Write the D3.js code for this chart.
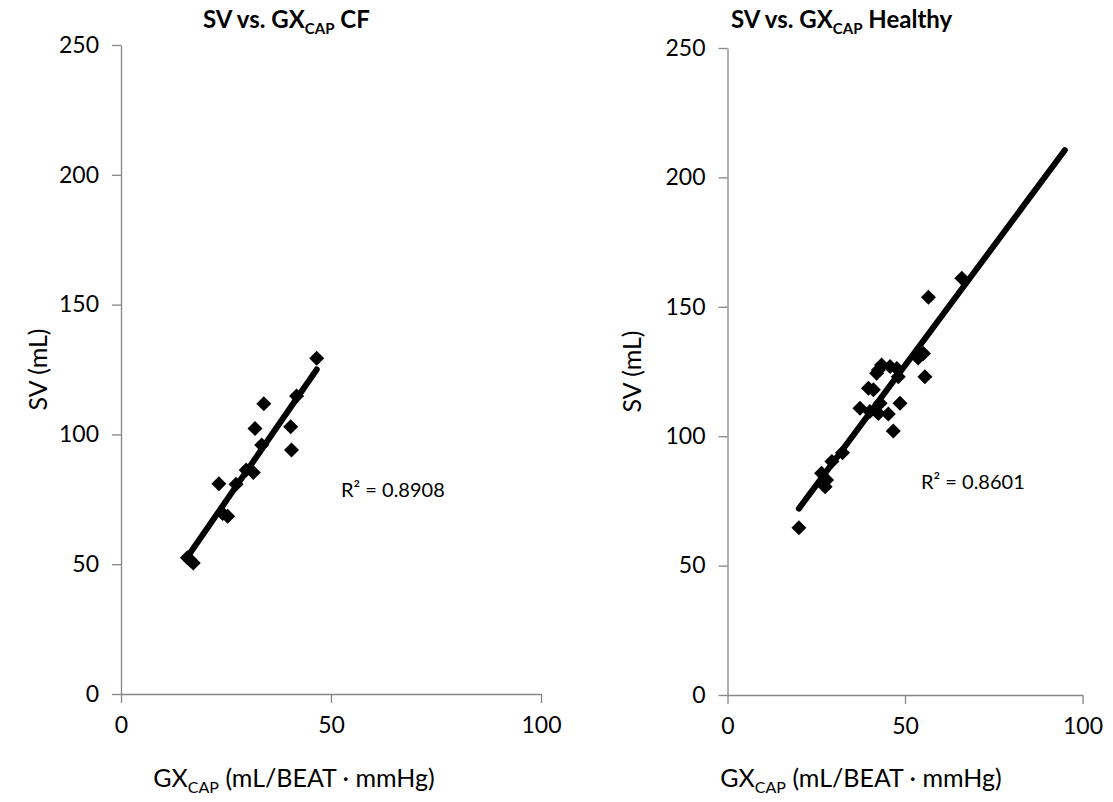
<!DOCTYPE html>
<html>
<head>
<meta charset="utf-8">
<script src="https://cdnjs.cloudflare.com/ajax/libs/d3/7.8.5/d3.min.js"></script>
<style>
  body { margin: 0; background: #fff; }
  text { font-family: Lato, "Open Sans", sans-serif; fill: #000; }
  .axis path, .axis line { stroke: #868686; stroke-width: 1.3; }
</style>
</head>
<body>
<script>
// CF panel
const cfX = [46.6, 41.8, 34.0, 31.9, 40.4, 40.6, 33.5, 29.8, 31.5, 23.3, 27.4, 24.2, 25.4, 15.8, 17.2, 16.5];
const cfY = [129.3, 114.8, 111.8, 102.3, 102.9, 94.0, 95.9, 86.3, 85.3, 81.0, 80.8, 69.5, 68.5, 52.5, 50.5, 51.5];
const cfR2 = "R² = 0.8908";

// Healthy panel
const healthyX = [20.1, 26.5, 27.9, 27.5, 29.4, 32.4, 37.3, 39.7, 41.1, 40.1, 42.5, 43.0, 45.3, 48.6, 46.7,
  42.5, 42.0, 43.4, 45.8, 48.1, 47.7, 54.2, 55.2, 55.6, 56.6, 66.0, 53.7];
const healthyY = [64.6, 85.7, 83.1, 80.5, 90.2, 93.6, 110.8, 118.5, 117.9, 109.5, 108.8, 112.7, 108.6, 112.7, 102.0,
  125.6, 124.3, 127.5, 126.9, 123.0, 126.2, 131.4, 132.0, 123.0, 153.7, 161.0, 130.2];
const healthyR2 = "R² = 0.8601";
const healthyTrendTo = 95;

const xTicks = [0, 50, 100];
const yTicks = [0, 50, 100, 150, 200, 250];

const W = 1113, H = 802;
const svg = d3.select("body").append("svg").attr("width", W).attr("height", H);

const diamond = "M0,-7.5L7.5,0L0,7.5L-7.5,0Z";

function panel(opt) {
  const x = d3.scaleLinear().domain([0, 100]).range([opt.left, opt.right]);
  const y = d3.scaleLinear().domain([0, 250]).range([opt.bottom, opt.top]);
  const g = svg.append("g");

  g.append("g").attr("class", "axis")
    .attr("transform", "translate(0," + opt.bottom + ")")
    .call(d3.axisBottom(x).tickValues(xTicks).tickSize(9).tickSizeOuter(0).tickPadding(14))
    .selectAll("text").style("font-size", "23px");

  g.append("g").attr("class", "axis")
    .attr("transform", "translate(" + opt.left + ",0)")
    .call(d3.axisLeft(y).tickValues(yTicks).tickSize(9).tickSizeOuter(0).tickPadding(13))
    .selectAll("text").style("font-size", "23px");

  g.selectAll(".axis text").attr("fill", "#000");

  // least squares trendline
  const n = opt.xs.length;
  const mx = d3.mean(opt.xs), my = d3.mean(opt.ys);
  let sxy = 0, sxx = 0;
  for (let i = 0; i < n; i++) { sxy += (opt.xs[i] - mx) * (opt.ys[i] - my); sxx += (opt.xs[i] - mx) ** 2; }
  const b = sxy / sxx, a = my - b * mx;
  const x0 = d3.min(opt.xs), x1 = opt.trendTo || d3.max(opt.xs);

  g.selectAll(".pt")
    .data(opt.xs.map((v, i) => [v, opt.ys[i]]))
    .enter().append("path")
    .attr("d", diamond)
    .attr("transform", d => "translate(" + x(d[0]) + "," + y(d[1]) + ")")
    .attr("fill", "#000");

  g.append("line")
    .attr("x1", x(x0)).attr("y1", y(a + b * x0))
    .attr("x2", x(x1)).attr("y2", y(a + b * x1))
    .attr("stroke", "#000").attr("stroke-width", 6).attr("stroke-linecap", "round");

  g.append("text").attr("x", opt.r2x).attr("y", opt.r2y)
    .style("font-size", "20px").text(opt.r2);

  const t = g.append("text").attr("x", opt.titleX).attr("y", 28)
    .style("font-size", "24px").style("font-weight", "bold");
  t.append("tspan").text("SV vs. GX");
  t.append("tspan").attr("dy", 6).style("font-size", "15px").text("CAP");
  t.append("tspan").attr("dy", -6).text(" " + opt.name);

  const xl = g.append("text").attr("x", opt.xLabelX).attr("y", 787)
    .attr("text-anchor", "middle").style("font-size", "25px");
  xl.append("tspan").text("GX");
  xl.append("tspan").attr("dy", 6).style("font-size", "16px").text("CAP");
  xl.append("tspan").attr("dy", -6).text(" (mL/BEAT · mmHg)");

  g.append("text")
    .attr("transform", "translate(" + opt.yLabelX + "," + ((opt.top + opt.bottom) / 2) + ") rotate(-90)")
    .attr("text-anchor", "middle").style("font-size", "25px").text("SV (mL)");
}

panel({ xs: cfX, ys: cfY, left: 121, right: 541, top: 45, bottom: 694,
  r2: cfR2, r2x: 341, r2y: 497, titleX: 203, name: "CF", xLabelX: 294, yLabelX: 47 });

panel({ xs: healthyX, ys: healthyY, trendTo: healthyTrendTo, left: 727.5, right: 1082.5, top: 48, bottom: 695,
  r2: healthyR2, r2x: 921, r2y: 489, titleX: 731, name: "Healthy", xLabelX: 861, yLabelX: 641 });
</script>
</body>
</html>
